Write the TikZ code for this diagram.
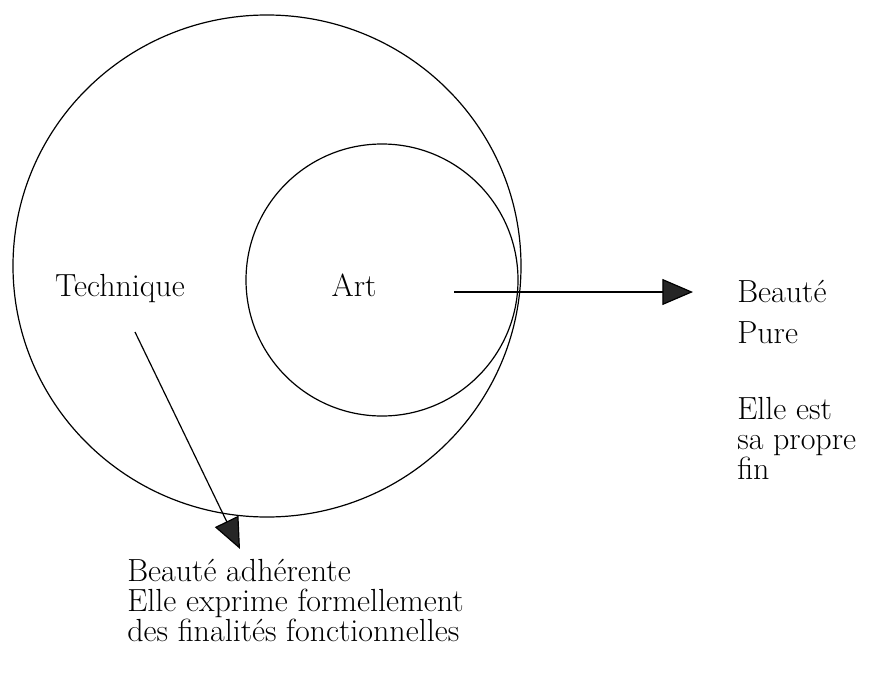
\documentclass[tikz,border=0pt]{standalone}
\usetikzlibrary{arrows.meta}

\tikzset{
  lbl/.style={inner sep=0pt, font=\fontsize{24}{22.5}\selectfont, align=left},
  ring/.style={line width=0.9pt},
  pointer/.style={line width=0.9pt, -{Triangle[length=23pt,width=19.5pt,fill=black!85]}},
}

\begin{document}
\begin{tikzpicture}[x=0.75pt,y=0.75pt,yscale=-1,xscale=1]
\useasboundingbox (0,0) rectangle (877,674);

%Ellipse Technique
\draw [ring] (267,266) ellipse (254 and 251);
%Circle Art
\draw [ring] (382,280) circle (136);

% Text Node
\node [lbl, anchor=base] (tech) at (120,296) {Technique};
% Text Node
\node [lbl, anchor=base] (art) at (354,296) {Art};
% Text Node
\node [lbl, anchor=base west] (pure) at (737,343) {Beauté\\[8pt]Pure};
% Text Node
\node [lbl, anchor=base west] (fin) at (737,479) {Elle est\\sa propre\\fin};
% Text Node
\node [lbl, anchor=base west] (adh) at (127,641) {Beauté adhérente\\Elle exprime formellement\\des finalités fonctionnelles};

%Arrow ends
\coordinate (artout) at (454,292);
\coordinate (puretip) at (693,292);
\coordinate (techout) at (135,332);
\coordinate (adhtip) at (240,549);

%Straight Lines
\draw [pointer] (artout) -- (puretip);
%Straight Lines
\draw [pointer] (techout) -- (adhtip);

\end{tikzpicture}
\end{document}
